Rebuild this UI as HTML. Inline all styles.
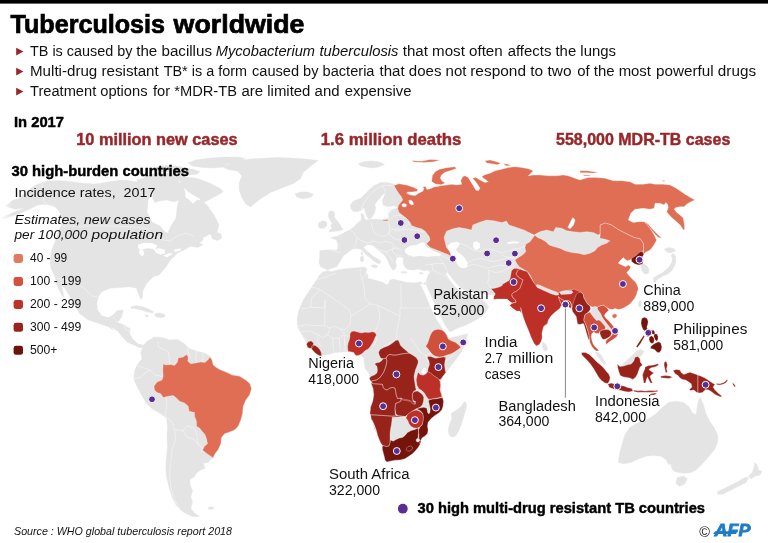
<!DOCTYPE html>
<html lang="en">
<head>
<meta charset="utf-8">
<title>Tuberculosis worldwide</title>
<style>
html,body{margin:0;padding:0;background:#fff;}
body{width:768px;height:543px;overflow:hidden;font-family:"Liberation Sans", sans-serif;}
svg{display:block;position:absolute;left:0;top:0;}
svg text{font-family:"Liberation Sans", sans-serif;white-space:pre;}
</style>
</head>
<body>
<svg width="768" height="543" viewBox="0 0 768 543">
<rect x="0" y="0" width="768" height="543" fill="#ffffff"/>
<g id="map">
<path fill="#e4e4e4" stroke="#e4e4e4" stroke-width="0.4" stroke-linejoin="round" d="M143.2 346.2L147 341.2L154.5 337L162 337.5L169.5 340L177.5 339.5L184.5 343.8L189.5 348.8L197 351.2L204.5 353L210 356.2L212 360L213.2 365L217 368L227 372.5L239.5 376.2L245.8 380L250 383.8L251.5 388.8L249.5 395L245.8 400L243.2 406.2L242.5 413.8L240.8 420L238.2 426.2L234.5 430L229.5 432L224.5 433.8L221.5 437.5L220.8 443.8L218.2 449.5L215 453.8L212.8 458L210.8 459.5L208.2 462.5L203.2 463.2L205 468.2L200.8 470L197 472.5L194 477L190 479.5L190 484.5L192.5 490.8L190.8 497L192.5 502L190.8 508.2L194.5 513.2L199.5 516.5L192 516.5L183.2 512L176.5 505.8L172 497L169 487L166.5 477L165.8 467L166.5 457L167.5 447L167 437L167.5 427L166.8 420L165.8 417.5L160.8 413.8L152 408.8L145.8 402.5L140.8 393.8L137 386.2L134 380L134.5 371.2L137 365L142 358.8L140.8 352.5ZM208.2 507.5L212 506.8L214 508L211.5 509.5L208.5 509ZM7.5 204.3L12.5 200.5L18.8 198.6L25 193L31.2 188L37.5 184.3L47.5 181.1L57.5 180.5L70 181.5L82.5 183.2L95 184L105 182.5L115 180.8L125 180L135 181.5L143 182.5L147 178L151 174L154 178L158 180L163 178L167 181L165 186L158 190L152 194L148 200L147 212L152 222L160 226L165 232L168 233L171 226L176 218L177 208L179 199L185 197L189 200L193 204L197 200L202 201L207 205L214 215L219 225L217 232L210 234L203 238L203 240L199.2 243L203 244.5L198 247.5L190.5 246.2L184.2 250L178 252.5L170.5 260L165.5 267.5L159.2 275L153.3 276.7L146.7 283.3L142.5 291.7L142.5 297.5L140.8 299.2L138.3 293.3L136.7 288.3L130 286.7L120 287.5L110 288.3L101.7 291.7L98.3 296.7L96.7 303.3L97.5 310L101.7 315.8L108.3 317.5L113.3 315L116.7 310.8L123.3 310L121.7 316.7L118.3 321.7L116.7 325L117.8 322.5L124 325L130.2 328.8L129.5 333.8L132.8 338.8L137.8 343.8L142.8 345L146.5 343.8L145.2 348L139 347.5L134 345L127.8 342.5L122.8 337.5L117.8 331.2L110.2 326.2L113.3 330L108.3 326.7L98.3 323.3L88.3 320L79.2 313.3L75.8 306.7L70 296.7L65 288.3L61.7 285.8L64.2 298.3L61.7 295L56.7 285L55 276.7L50.8 268.3L50 260L51.7 250L55.8 240L58.7 230.5L61.2 225.5L62.5 220.5L61.2 215.5L58.7 210.5L55 206.8L50 205L42.5 204.3L37 205.3L30 209L22 212.5L12 216L3 219L2 217.3L11 213.5L20 210L25 208L15 209.2L7.5 206.8L5.5 205.5ZM130.8 306.7L136.7 305.8L143.3 307L149.2 309.2L153.3 311.7L152.5 313L146.7 311.7L140.8 309.7L135 308.7L131.3 308.3ZM155 313.7L159.2 313L164.2 314.2L165.3 316.3L161.7 317.7L156.7 317L154.7 315.3ZM144.7 315.3L147.5 315L148.7 316.3L146 317ZM327.3 270.8L331.5 271.7L337.3 270L345.7 268.7L354 268L360.7 267.5L364.8 267L367 269.2L365.7 272.5L368.2 275.8L367.3 278.3L371.5 279.2L377.3 280.8L383.2 282.5L386.5 285L389 283.3L389.8 280L394 279.2L399.8 280.8L407.3 282.5L414 283L420.7 281.7L423.2 283.7L420 284L423.5 291L427 299L430 306.5L433.5 313.5L436.5 319.5L439.5 324.5L444 331L447.5 336L449.5 338.3L449.5 338.2L457 336.4L464.5 334.5L467.6 333.9L467 337L466.4 340.8L465.1 344.5L462.6 349.5L459.5 354.5L455.8 359.5L452 364.5L448.2 369.5L445.8 372.6L443.9 375.1L442 377.6L440.1 380.1L441.9 377.2L440.6 382.2L441.2 388.5L441.9 394.8L442.5 397.5L443.5 401L443.1 406L441.9 409.8L438.8 412.9L435 415.4L431.2 418.5L428.1 422.2L427.5 426L428.1 429.8L427.5 433.5L425 436L421.9 437.9L420.6 441L420 443.9L421.2 441.2L420 444.4L418.1 447.5L415.6 450.6L412.5 453.8L408.8 456.2L405 458.8L400 460L395 460.2L390 461.2L386.9 461.9L385 460L384.4 456.9L383.5 453.8L382.5 450L382.2 447.5L382.8 445.6L381.2 443.8L379.4 440L377.5 435L376.2 430L374.4 425L371.9 420L371.2 418.5L370.6 414.8L370 413.5L370.6 407.2L372.8 401L373.8 394.8L373.1 388.5L371.2 383.5L372.5 387.5L371.9 383.1L371.2 381.2L370 380L369.4 378.1L370.6 379.5L370 375.8L368.1 372L365 368.2L364.4 363.2L363.8 358.2L361.2 355.1L356.9 355.8L353.8 352.6L348.1 351.4L341.2 352L335 352.6L330 353.9L325 355.1L321 355.5L318.8 354.8L316.2 352.6L313.8 350.5L311.9 347.6L310 348.2L307.8 347L306.9 343.9L304.5 339.2L300.8 333L298.2 328L297 320.5L298.2 313L300.8 305.5L304.5 298L309.5 290.5L314.5 283L319.5 275.5L317.3 280L319.8 275L323.2 271.7ZM464.4 401.6L466.2 402.9L466.5 406.6L465 412.2L463.1 418.5L461.2 424.8L458.8 431L455.6 436L451.9 437.2L449 434.8L448.1 429.8L449.4 424.8L451.9 418.5L451.2 413.5L455 411L458.8 408.5L461.9 405.4ZM327.3 270L324 268.3L320.7 266.7L319 262.5L319.8 256.7L319.8 250.8L329 249.7L337.3 250L338.2 245L336.5 240L330.7 237.5L337.3 236.3L341.5 234.2L345.7 231.7L349.8 230L354 226.7L357.3 223.3L360.7 220.8L361.5 218.3L360.7 214.2L363.2 213.7L364.3 217.5L365.3 220L370.7 219.2L377.3 219.2L382.3 219.7L389 218.3L388.2 214.2L390.7 210.8L395.7 208.3L398.2 207.5L394 205.8L387.3 206.7L383.2 205L382.3 200.8L384 196.7L385.7 192.5L382.3 195L378.2 200L374.8 204.2L375.7 208.3L374.7 212.5L373 215.8L371 218.3L368.7 218.8L366.8 216.7L365.3 212L364 207.5L361.5 210L357.3 211.7L353.2 211.3L350.7 208.3L350.7 204.2L354 200.8L360.7 198.3L364.8 194.2L369 190L374 185.8L380.7 182.5L387.3 182.5L394 184.2L420 200L470 215L520 225L535 238L530 260L520 270L516 285L509 296L500 295.5L492 295L484 294L478 292.5L472 291.5L466 290.5L461 288L456.5 283.5L452 278L448.5 273.5L447 272L446 274L449.5 280L454 285.8L458.5 290L464 292.8L470 293.5L475 295.5L481 298.5L486 303L488.5 307L486 312L481 317L474 321L466 325L458 328L450 332L445 325L441.5 318L438 310.5L434 302L430.5 294.5L428 289L426 284L424.5 282L424 283.7L425.3 285L426.5 280L428.2 275L429.8 272.5L428.2 270L424 270.8L419 269.2L412.3 270L407.3 269.2L404 265.8L403.2 261.7L403.5 258L400 256.5L396.5 258L395.5 262L396.5 266L395 269.5L392.5 270L390.5 266.5L388.5 262.5L387 258.8L383.9 254.6L378.7 250.4L372.4 245.2L367 244.5L363.5 247.5L366.2 250.4L370 253.5L373.5 256.7L377 258.5L380.8 260.8L379.5 263.8L377 263L374.5 261.4L371 258.5L367.2 255.6L364 252.5L361 249.4L357 248.5L352 249.3L346.4 253.5L343.2 256L341.5 259.2L339.5 262.5L336.5 266.7L331.5 268.3ZM329 211.7L332.3 210.8L334.8 213.3L334 216.7L336.5 220L339.8 224.2L341.5 227.5L343.2 229.2L339.8 230.8L334.8 231.3L329.8 232L329 230.8L332.3 228.3L330.7 225.8L332.3 223.3L329.8 220L328.2 215.8ZM319 222.5L323.2 220.8L326.5 222L327 225.8L324 228.3L319.8 228.3L318.2 225.8ZM370.7 265.3L374.8 264.7L377.7 265.7L376.5 267.7L372.7 267.3ZM360.7 256.7L363.2 256L363.7 260.8L361.5 262L360.3 259.7ZM361.2 251.7L362.5 252L362.7 255L361.3 255ZM400.7 271.8L404 271.5L407.3 272.2L404.8 273.2L401.5 273ZM419 272.8L421.5 272.3L423.3 273.3L420.7 274.3ZM295 193.8L300.5 192L308 192L313.5 194.5L310.5 197.5L303 198.8L296.8 197ZM358.2 163.8L364.5 161.5L372 161L379.5 162L384.5 164.5L378.2 167L372 168L365.8 167L360.8 166ZM640.8 264.2L644.2 263.7L647.5 266.7L649.2 270L648.3 273.3L645 274.2L642.5 271.7L641.3 268.3ZM653.3 278.3L656.7 275.8L661.7 273.3L665.8 270L669.2 266.7L671.7 262.5L672.5 258.3L670.8 255.8L673.3 253.3L675.8 256.7L675.8 261.7L674.2 266.7L671.7 270.8L667.5 274.2L663.3 275.8L659.2 278.3L655.8 280.8ZM654.2 277.5L656.7 279.2L655.8 282.5L653.3 281.7ZM664.2 249.2L668.3 247.5L673.3 248.3L675.8 250.8L671.7 252.5L667.5 252.5ZM638.8 301.5L640.6 300.2L641.5 302.8L640.6 306.5L639 307.1L638.4 304.6ZM542.5 341.9L544.4 343.1L546.9 346.2L547.5 349.4L545.6 351.2L543.5 350L542.2 346.2ZM590.6 310.9L592.5 307.8L595 306.8L597.5 307.8L598.8 310.9L600.6 313.4L601.9 316.5L603.8 319.6L606.2 322.8L608.8 325.9L611.2 329L610.6 330.9L608.1 329.6L605.6 327.1L603.1 324L601.2 321.5L598.8 319.6L596.2 320.2L594.4 318.4L592.5 315.9L591.2 313.4ZM595 351.9L598.8 352.5L601.9 356.2L603.8 360L605.6 363.8L604.4 364.4L601.9 361.9L599.4 358.8L596.9 355.6ZM622.5 363.8L626.2 361.2L630 357.5L633.8 353.8L637.5 350.6L641.2 349.4L643.8 351.2L642.5 354.4L639.4 356.9L637.5 356.9L635 357.5L633.8 361.2L631.2 364.4L627.5 365L623.8 365.6ZM618.5 460L619.8 452.5L622.2 443.8L624.8 435L629.8 427.5L638.5 422.5L648.5 418.8L656 413.8L662.2 407.5L668.5 402.5L676 401.2L683.5 402.5L688.5 406.2L692.2 412.5L696 415L697.2 407.5L698.5 400L700.5 397.5L703.5 405L706 413.8L709.8 421.2L714.8 428.8L718 436.2L717.5 442.5L715 448.8L710 455L702.5 463.8L696 470L691 472.5L684.8 473.2L678.5 472.5L674 471.2L672 468.8L670.5 463.8L668.5 464.5L666 459.5L661 456.2L653.5 455.5L646 456.2L638.5 458.8L631 462.5L623.5 463.8L618.5 462.5ZM677.2 477.5L683.5 476.2L687.2 478.8L684.8 483.8L679.8 486.2L676 483.8ZM754.8 462.5L757.2 465L758.5 470L762.2 471.2L759.8 475L754.8 476.2L751 478.8L748.5 476.2L752.2 472.5L754 467.5ZM748.5 477.5L746 482.5L738.5 486.2L731 490L723.5 493.8L718 494.5L717.2 492L723.5 488.8L731 485L738.5 481.2L744.8 477.5ZM223 167L235.5 161.2L253 158.8L278 157.5L303 158.8L318 160.5L310.5 166.2L303 172.5L300.5 178.8L293 183.8L283 187.5L270.5 192.5L260.5 198.8L254.2 203.8L250.5 207L245.5 203.8L241.8 197.5L239.2 190L239.2 182.5L241.8 176.2L238 171.2L228 169.5ZM188 163L195.5 160L208 158.2L223 157L238 157L245.5 158.8L238 162L228 163.8L223 167L213 168L203 167.5L193 166.2ZM183.3 176.7L196.7 178.3L210 183.3L220 188.3L223.3 191.7L216.7 195.8L210 199.2L205 201.7L200.8 204.2L198.3 202.5L200.8 199.2L195 195.8L188.3 191.7L183.3 186.7L180 181.7ZM143 176.2L155.5 173.8L170.5 173L183 175L186.8 178.8L178 181.2L165.5 181.2L153 182L145.5 180ZM153 167.5L165.5 165.5L178 166.2L188 168.8L183 172L170.5 172L158 171.2ZM136.7 180L146.7 177.5L158.3 176.7L168.3 178.3L173.3 181.7L170 186.7L163.3 189.2L155 188.3L146.7 186.7L140 185ZM175 170L183.3 168.3L193.3 169.2L200 171.7L196.7 174.2L188.3 174.7L180 173.3ZM210.5 233.8L215.5 232L221 233.8L221.8 238L217.5 240.5L212.5 238.8ZM156.7 181.7L166.7 180L176.7 180.8L183.3 185L185.3 193.3L184.5 201.2L180 200L173.3 201.7L166.7 200L160 200.8L155 202.5L152.5 198.3L153.3 190Z"/>
<path fill="#fff" d="M421.8 369.5L423.8 367.8L426 368.5L426.5 371.2L425.4 373.5L423.4 374.5L421.5 372.5ZM405 249.2L410 245.8L416.7 245L419.7 243.3L422.5 242.3L425 243.3L424.7 245.3L427.5 247.5L433.3 250.8L438.3 253L441.7 254.3L439.2 256L433.3 256.2L426.7 256.7L420 255.8L413.3 256.7L408.3 255L405 252.5ZM447.5 245.8L451.7 242.5L456.7 241.7L460 243.3L458.3 246.7L455.8 249.2L458.3 252.5L461.7 255L465 258.3L467.5 262.5L467.5 266.7L464.2 268.3L460 267.5L457.5 264.2L455.8 260L453.3 257.5L450 255L448.3 250.8ZM473.3 242.5L476.7 241.3L479.7 243.3L480 247.5L477.5 250L474.2 249.2L473 245.8ZM506.7 242.5L513.3 241.3L519.2 242L518.3 243.3L513.3 243.3L508.3 244.2ZM137.9 244.8L144.2 242.7L152.5 243.3L157.7 245.8L154.6 249L147.3 248.3L142.1 249.6L137.9 248.3ZM139.6 249L143.1 250L144.2 254.6L141.7 256.2L139 253.1ZM153.5 249L159.8 248.3L165 250L164.6 253.8L159.8 254.6L155.6 252.5ZM162.9 255.8L169.2 253.1L173.3 253.8L167.1 257.3ZM173.3 250L180 248.3L181.7 250L175.4 252.1Z"/>
<path fill="none" stroke="#fff" stroke-width="0.5" stroke-opacity="0.85" stroke-linejoin="round" d="M315 280.5L320 278.3L325.8 277.2L331.7 274.7L336.7 273M310 286.7L315 287.7L320 289.7L311.7 298L310.8 307.2L307.5 308L301.7 308.8M320 289.7L325 293L338.3 302.2L350 310.5L350.8 316.3L360 310.5L370 303.8M370 303.8L365 298L364.2 289.7L363.3 283L361.7 278L360 273L360.8 268.8M361.7 278L365 276.3L365.8 273M370 303.8L378.3 305.5L390 311.3L400 316.3L400 308L401.3 308L400.8 283.8M401.3 308L410 308L418 308M310.8 307.2L325 308L325 300.5L324.7 325.5L311.7 325.5L306.7 324.7L298.3 326.3M324.7 325.5L330 328L335 326.3L340 328.8L345 329.7L350 324.7L350.8 316.3M378.3 305.5L380 318L376.7 328L375 331.7M400 316.3L398.3 324.7L396.7 331.3L396.7 338.3M383.3 346.3L390 343L396.7 338.8M350.8 333.8L347.5 336.3L345 334.7L340 328.8M332.5 338L333 344.7L333.7 351.3M339.2 338L339.7 344.7L340.3 351.3M344.2 334.7L344.7 343L345.3 351M330 328L327.5 334.7L332.5 338L339.2 338L344.2 334.7M300 332.2L306.7 331L313.3 332.2L318.3 334.7L322.5 338L327.5 334.7M300 332.2L303.3 336.3L306.7 341.3M318.3 334.7L317.5 341.3L320.8 346.3M373.3 346.3L376.7 339.7L375 332.2M418 308L430 308M410 338L416 345L420 352L426 356L432 352M432 352L436 357L438 361L444 360M426 356L428 362L432 366L437 366M446 361L452 356L458 349L462 347M444 331L446 336L448 339M460 243.3L466.7 245.8L473.3 250L480 251.7L486.7 249.2L493.3 250L500 252.5L506.7 251.7L513.3 249.2L520 248.3L525 245.8M455 260L458.3 265L466.7 266.7L473.3 264.2L480 265.8L486.7 268.3L493.3 266.7L500 265L506.7 265.8L513.3 263.3L518.3 260M467.5 262.5L473.3 260L480 258.3L486.7 260L493.3 261.7L500 260L506.7 258.3L513.3 256.7M500 252.5L503.3 255.8L508.3 257.5L515 258.3L520 256.7M488.3 270L489.2 276.7L487.5 283.3L491.7 288.3M488.3 270L495 272.5L501.7 271.7L508.3 268.3L515 265.8M436.7 253.3L441.7 255.8L446.7 258.3L450 260M437 253.7L440 258.3L443.3 263.3L445.8 268.3L448.3 271.7M425 265L431.7 264.2L438.3 263.3L443.7 263.7M431.7 264.2L433.3 270L438.3 273.3L445 275.8L448.3 271.7M426.7 273.3L433.3 270M445 275.8L450 280L455 283.3M157.5 340.8L158.3 346.7L163.3 349.2L168.3 351.7L169.2 358.3L170 364.2M137.5 365.8L143.3 367.5L150 370L155 375L160 375.8L163.3 377.5M135 378.3L140 377.5L145 373.3L150 370M165.8 396.7L166.7 403.3L166.7 408.3L165 413.3L166.7 420M188.3 345.8L187.5 351.7L190 355.8L188.3 358.3M196.7 350.8L195.8 358.3L196.7 363.3M203.3 352.5L202.5 359.2L203.3 362.5M166.5 417L172 422L174.5 429.5L183.2 430.8L187 425.8L194.5 428.2M174.5 429.5L175.8 439.5L172 449.5L170.8 462L169.5 474.5L170.8 487L174.5 499.5L179.5 509.5M183.2 430.8L187 437L194.5 439.5L198.2 444.5L202.5 448.2M194.5 428.2L197 434.5L198.2 444.5M200.8 453.2L202.5 448.2L207 449.5M58 226L80 226L110 226L135 227L148 229L156 236L163 240L170 241L177 236L186 233L194 236M42 183L43 192L44 202L48 205M57 278L66 280L76 284L84 288L92 296L98 297M113 317L117 322L121 322M124 325L126 330L130 331M132 338L135 340M361.5 209.2L362.3 205.8L364.8 201.7L368.2 196.7L372.3 192.5L377.3 188.3L382.3 185.8L387.3 185L392.3 185.8M385.7 192.5L384 188.3L382.3 185.8M329 250L335 251L341 253M350 229L354 233L357 238L356 244L354 248L357 252M357 238L362 241L368 243L374 241L380 243M350 229L353 224L358 221M371 221L372 227L374 233L380 236L386 236M388 221L390 227L389 233L386 236M388 221L394 216L402 215L409 219L408 225L402 229L392 229L389 233M389 233L393 238L399 240L404 238L409 241M392 229L398 231L408 229L416 230L424 232M380 243L386 241L392 243L396 248L401 250M374 247L380 250L386 252L390 257L393 262M393 246L392 251L396 255L402 255M386 252L390 250L396 248M396 255L398 260L402 262M309 250L311 258L310 265"/>
<path fill="#df6e54" stroke="#fff" stroke-width="0.3" stroke-linejoin="round" d="M163.2 363.8L165.8 365L170.8 364.5L174.5 365.5L177.5 362L178.2 358L183.2 357L186.5 354.5L188.2 357L187.8 361.2L190.8 363.8L195.8 363L200.8 362L205 362.5L208.2 359.5L210 357L212 360L213.2 365L217 368L220.8 370L227 372.5L232 375L239.5 376.2L245.8 380L250 383.8L251.5 388.8L249.5 395L245.8 400L243.2 406.2L242.5 413.8L240.8 420L238.2 426.2L234.5 430L229.5 432L224.5 433.8L221.5 437.5L220.8 443.8L218.2 449.5L215 453.8L212.8 458L210.8 456.2L207 453.8L202.5 450L204.5 446.2L207.5 443.8L206.5 438.8L205 434.5L202 431.2L199.5 428L196.5 426.2L196.5 421.2L194.5 416.2L194.5 412.5L189 411.2L188.2 406.2L184.5 403L179.5 401.2L176.5 398L173.2 395.5L168.2 396.2L163.2 397.5L160.8 393.8L157 392.5L154.5 390L154 386.2L157 382L162 380L163.2 376.2L162.8 370Z"/>
<path fill="#98231a" stroke="#fff" stroke-width="0.3" stroke-linejoin="round" d="M306.5 343.9L308.5 341.6L311.2 341L313.5 343L313.5 345.8L312.1 347.9L310 348.6L307.5 347.2ZM312.5 344.9L315.2 345.4L317.8 347.2L320 349.8L321.2 352.4L321.8 355.8L319.4 355.8L316.6 354.1L314.1 352L312 349.5L311.2 347.6Z"/>
<path fill="#bd3027" stroke="#fff" stroke-width="0.3" stroke-linejoin="round" d="M350 333.9L351.2 331.8L353.8 331L357.5 332L361.2 333L365 332.2L368.8 332.6L372.5 331.8L375 332.6L376.5 335.1L375 337.6L373.8 340.8L371.9 343.9L370 347L368.1 348.9L365 350.8L362.5 353.2L360 354.8L356.9 355.8L355 354.8L353.8 352.6L350.6 351.8L348.1 351.4L347.5 347L348.1 343.2L349.4 339.5L350 336.4Z"/>
<path fill="#98231a" stroke="#fff" stroke-width="0.3" stroke-linejoin="round" d="M378.5 352.5L380 349.4L383.8 347.5L388.8 345.6L392.5 343.1L395.6 340.6L398.1 340L399.4 342.5L400.6 345.6L403.1 348.1L406.2 350.6L408.8 353.1L405 353.5L401.2 354L397.5 354.8L393.8 355.2L390 354.4L387.5 355.6L386.2 358.1L383.1 358.8L380.6 358.1L379.4 355.6ZM383.1 358.8L386.2 358.1L386.9 361.2L386.2 365L385 368.8L383.8 371.9L381.9 375L379.4 378.1L376.2 380L373.1 380.6L371.2 381.2L370 380L369.4 378.1L371.2 376.2L374.4 375L376.9 373.1L377.5 370L376.9 366.2L375 364.4L375.6 363.1L378.8 362.5L381.2 361.2ZM387.5 355.6L390 354.4L393.8 355.2L397.5 354.8L401.2 354L405 353.5L408.8 353.1L412.5 355L416.2 357.5L418.1 360.6L418.1 363.1L416.9 366.2L415.6 369.4L414.8 372.5L414 376.2L414.4 380L415 383.8L415.6 387.5L416.2 390L413.8 391.2L412.5 393.8L412.5 397.5L413.1 401.2L415 402.5L415 404.4L412.5 403.8L410 401.2L406.2 400.6L402.5 400L401.2 398.1L397.5 398.5L396.2 395L395.6 391.2L395 388.1L392.5 387.5L389.4 388.1L387.5 390L385 389.4L383.1 387.5L382.5 384.4L378.1 384L373.8 383.8L371.9 383.1L371.2 381.2L373.1 380.6L376.2 380L379.4 378.1L381.9 375L383.8 371.9L385 368.8L386.2 365L386.9 361.2L386.2 358.1ZM371.9 383.1L373.8 383.8L378.1 384L382.5 384.4L383.1 387.5L385 389.4L387.5 390L389.4 388.1L392.5 387.5L395 388.1L395.6 391.2L396.2 395L397.5 398.5L401.2 398.1L401 400.6L401 401L398.8 402.2L395.6 403.5L395 408.5L395 413.5L396.2 415.8L392.5 416.2L387.5 415.8L381.2 415.4L375 415L370.6 414.8L370 413.5L370.6 407.2L372.8 401L373.8 394.8L373.1 388.5L371.2 383.5ZM370.6 414.8L375 415L381.2 415.4L387.5 415.8L392.5 416.2L396.2 415.8L398.8 416L405 416.6L398.8 417L392.2 417.2L391.9 421L391.2 426L390.6 428.5L390 433.5L390 438.5L390 443.9L389.8 443.8L388.8 446.2L386.2 446.5L382.8 445.6L381.2 443.8L379.4 440L377.5 435L376.2 430L374.4 425L371.9 420L376.2 433.5L375 428.5L373.1 423.5L371.2 418.5ZM395.6 403.5L398.8 402.2L401 401L400.6 398.5L403.8 399.1L407.5 399.8L411.2 401L413.8 402.9L415 404.1L415.6 401.6L413.1 400.4L412.2 397.2L412.5 393.5L414.4 391.6L417.5 391L420.6 392.9L422.5 394.8L423.8 397.2L423.5 401L422.5 404.8L420 407.2L416.2 408.8L412.5 411L410 412.9L407.5 414.8L405 416.6L401.2 416L398.1 415.8L395.6 413.5L395 408.5Z"/>
<path fill="#bd3027" stroke="#fff" stroke-width="0.3" stroke-linejoin="round" d="M407.2 415L409.8 412.6L413.1 410.8L416.5 410.1L420.2 411.4L422.8 413.9L423.8 417.2L423.4 421.2L422.1 424.4L420.1 426.9L416.9 428.2L413.5 427.8L410.9 426.2L409 423.8L407.8 420.6L405.9 418Z"/>
<path fill="#75140b" stroke="#fff" stroke-width="0.3" stroke-linejoin="round" d="M429.4 399.8L432.5 399.1L437.5 398.5L442.5 397.5L443.5 401L443.1 406L441.9 409.8L438.8 412.9L435 415.4L431.2 418.5L428.1 422.2L427.5 426L428.1 429.8L427.5 433.5L425 436L421.9 437.9L420.6 441L420 443.9L418.8 441L419 436L418.5 429.8L420 427.2L422.2 424.8L423.1 421L423.5 417.2L422.8 413.5L420.6 411L417.8 409.5L416.9 408.8L420 407.9L423.8 407.2L426.9 408.2L427.5 412.2L428.8 414.1L430 412.2L430.2 408.5L429.4 404.8L428.5 401ZM382.8 445.6L386.2 446.5L388.8 446.2L389.8 443.8L390.6 440L393.1 441.2L396.2 439.4L399.4 438.1L402.5 437.5L405 435.6L407.5 432.5L411.2 430.6L415 429.4L418.1 428.1L418.5 432.5L418.1 437.5L419.4 439.4L421.2 441.2L420 444.4L418.1 447.5L415.6 450.6L412.5 453.8L408.8 456.2L405 458.8L400 460L395 460.2L390 461.2L386.9 461.9L385 460L384.4 456.9L383.5 453.8L382.5 450L382.2 447.5ZM406.5 448.1L408.1 446.5L410.6 446L412.5 447.2L412.2 449.4L410 451L407.8 451.2L406.2 450Z"/>
<path fill="#ececec" stroke="#fff" stroke-width="0.3" stroke-linejoin="round" d="M416.2 439.4L417.5 438.2L419 438.8L419.6 440.2L418.8 441.8L417.2 442L416.2 441Z"/>
<path fill="#bd3027" stroke="#fff" stroke-width="0.3" stroke-linejoin="round" d="M418.1 371.9L420 374.4L423.1 375.2L425.8 374L428.1 371.2L431.2 373.1L435 376.2L438.8 378.8L440 381.2L440.6 385L440 390L441.2 393.8L441.9 396.9L437.5 398.1L432.5 398.8L428.8 399.4L426.2 396.2L424.4 393.1L421.9 390.6L418.8 388.8L416.9 385L416.2 380L416.9 376.2Z"/>
<path fill="#98231a" stroke="#fff" stroke-width="0.3" stroke-linejoin="round" d="M427.6 356.4L430.8 356.4L433.2 357.6L435.8 358.2L439.5 357.6L443.2 357L445.8 357.6L445.1 360.8L444.5 364.5L445.1 369.5L445.8 372.6L443.9 375.1L442 377.6L440.1 380.1L437.6 378.2L433.9 375.8L430.8 373.2L427.6 371.4L428.2 368.2L429.5 364.5L428.9 360.8L427.6 358.2Z"/>
<path fill="#d1503c" stroke="#fff" stroke-width="0.3" stroke-linejoin="round" d="M425.8 346.4L427.6 343.2L428.9 339.5L430.1 335.8L432 332L434.5 330.1L438.2 329.2L442 330.1L445.1 332.6L447 335.8L448.2 338.9L451.4 340.8L455.8 342.6L459.5 345.8L460.8 347.6L458.2 349.5L454.5 352L450.8 353.9L447 355.1L443.2 356.4L439.5 357L435.8 356.4L433.2 355.1L430.8 352.6L428.9 350.1L427 347.6Z"/>
<path fill="#df6e54" stroke="#fff" stroke-width="0.3" stroke-linejoin="round" d="M394 185.6L399 183.8L406.5 185L414 187.5L417.8 189.4L417.1 191.2L412.8 191.9L407.8 191.9L406.5 193.1L410.2 195L415.2 195.6L419 193.1L422.8 191.2L424 188.8L422.8 186.9L425.2 186.2L427.1 189.4L430.2 188.8L434 186.9L439 186.2L440 185.8L446.7 185L451.7 184.2L456.7 185L461.7 184.2L460.8 180.8L462.5 176.7L465 175.8L468.3 177.5L470.8 181.7L473.3 185.8L475.8 190L478.3 190.8L480 188.3L477.5 184.2L475 180.8L472.5 178.3L475.8 177.5L480 180L485 182.5L488.3 181.7L485 179.2L481.7 176.7L484.2 175L490 173.3L495 170.8L501.7 169.2L508.3 167.5L515 166.7L521.7 167.5L528.3 168.7L533.3 170.8L530.8 173.3L528.3 175.8L533.3 175L540 175L548.3 175.8L556.7 175.8L563.3 175L568 175.8L580 180L588.3 177.5L596.7 177.5L605 178.3L613.3 180.8L621.7 180.8L630 181.7L635 184.2L643.3 184.2L650 183.3L655 184.2L663.3 184.2L670 185L675 187.5L680 190.8L685 194.2L687.5 195.8L691.7 198.3L695 200L690.8 201.7L686.7 204.2L684.2 206.7L680 206.7L675.8 207.5L674.2 209.2L676.7 212.5L680 215L683.3 218.3L684.2 223.3L684.7 229.2L683.3 230L680.8 225.8L676.7 221.7L672.5 218.3L669.2 215L666.7 211.7L668.3 207.5L667.5 204.2L665.8 202.5L664.2 205L660 203.3L655 203.3L654.2 208.3L650 209.2L643.3 208.3L635 209.2L630.8 213.3L628.3 220L633.3 222.5L638.3 221.7L644.2 221.7L646.7 224.2L650 228.3L653.3 233.3L655.8 238.3L656.7 240L654 245L650.2 250L645.2 252.5L642.8 255L643.5 250L643.5 243.8L640.2 238.8L634 237.5L626.5 233.8L619 230L611.5 225L605.2 223L600.2 225L600.2 233.8L594 237.5L574 237.5L554 235L544 231.2L539 232.5L534 235L531.5 233.8L524 230L516.5 227.5L509 225L506.5 221.2L501.5 222.5L494 220.8L486.5 220L479 222.5L472.8 225L471.5 230L466.5 228.8L459 227.5L452.8 228.8L446.5 231.2L444 237.5L445.2 242.5L446.5 247.5L449.5 251.2L451.5 256.2L449 255L442.8 252.5L436.5 250L430.2 247.5L426.5 243.8L430.2 240L429 236.2L425.2 231.2L421.5 228.8L416.5 227.5L411.5 225.6L410.2 222.5L407.1 218.8L402.8 215.6L399 212.5L397.8 208.8L398.4 205.6L400.2 203.1L402.8 200L401.5 196.9L399 193.8L396.5 190ZM431.6 181.5L432.4 175.5L435.5 171.5L439.5 169.2L446.5 167.7L455 166.8L456.3 168.6L450 170.7L445 172.3L441.5 175L440.3 178L442 181L445.3 183L441 184.8L435.5 184ZM411.5 160.5L421.5 161.2L430.2 159.5L440.2 160L434 161.8L424 162.5L414 162ZM485 160.8L490 160L496.7 161.7L500.8 163.3L497.5 164.7L491.7 163.7L486.7 163ZM503.3 163.7L508.3 164.2L510.8 165.8L505.8 165.8ZM580 170.8L586.7 170.7L591.7 171.5L598.3 172.3L593.3 173.2L586.7 172.7L580 172.7ZM583.3 174.8L590 175.2L590.3 176L583.7 175.8ZM662.5 180.2L665 180.7L664.7 181.5L662.7 181.2ZM382.7 219.7L388.2 219.7L388.2 221L383 220.8ZM645 221.7L648.3 224.2L653.3 230L658.3 235L661.7 238.3L658.3 237.5L654.2 233.3L650 228.3L645.8 223.3Z"/>
<path fill="#ffffff" stroke="#fff" stroke-width="0.3" stroke-linejoin="round" d="M401.8 204.4L404 203.5L406.5 204.4L406.2 206.5L404 207.1L402.1 206.2ZM408.8 200.6L410.9 200L413 201.9L413.5 204.4L411.8 205L409.6 203.5ZM567.8 227.5L570.2 222.5L572.8 217.5L575.2 220L573.5 225L570.2 228.8Z"/>
<path fill="#df6e54" stroke="#fff" stroke-width="0.3" stroke-linejoin="round" d="M535 235L556.7 241.7L583.3 243.3L600 237.5L600.2 233.8L600.2 225L605.2 223L611.5 225L619 230L626.5 233.8L634 237.5L640.2 238.8L643.5 243.8L643.5 250L641.5 253.8L634.2 260L631.7 259.2L627.5 260.8L625 259.2L623.3 257.5L620 260.8L618.3 263.3L621.7 265L625.8 266.7L628.3 265L630.8 266.7L629.2 270L626.7 272.5L629.2 275.8L632.5 279.2L635.8 282.5L637.5 285.8L638.3 289.2L636.7 293.3L636.9 294L635 297.8L632.5 300.9L630 304L626.2 306.5L622.5 308.4L618.8 309.6L615 308.4L612.5 309.6L609.4 309L606.2 307.1L603.1 305.2L600 305.9L597.5 307.1L595 306.5L592.5 307.1L590 305.9L587.5 304L585.6 300.9L583.8 297.8L583.1 294L580.6 292.1L578.3 293.3L574.2 291.7L569.2 292.5L563.3 294.2L557.5 295L551.7 293.3L545 290.8L540 288.3L535 285.8L531.7 278.3L530 275L527.5 271.7L523.3 269.2L519.2 266.7L516.7 263.3L515 260L518.3 257.5L522.5 255L525.8 251.7L525 247.5L525.8 244.2L530 241.7L532.5 238.3ZM612.5 314.6L615 313.8L617.2 315L616.5 317.1L614.4 318.4L612.2 317.1Z"/>
<path fill="#e4e4e4" stroke="#fff" stroke-width="0.3" stroke-linejoin="round" d="M535 235L540 231.7L546.7 230L553.3 231.7L555.8 227.5L561.7 228.3L566.7 230.8L573.3 231.7L580 232.5L586.7 231.7L593.3 232.5L598.3 235L600 238.3L605 239.2L610 240.8L606.7 243.3L601.7 245L597.5 247.5L595 250.8L590 253.3L584.2 254.7L578.3 253.3L571.7 252.5L565 250.8L560 248.3L554.2 246.7L549.2 245L545.8 241.7L541.7 239.2L537.5 237.5Z"/>
<path fill="#75140b" stroke="#fff" stroke-width="0.3" stroke-linejoin="round" d="M631.3 258.7L633.7 257L636.3 255.3L638.3 253.3L640.3 251.7L642.7 251.7L643.7 254.7L642 257.5L643.3 260.8L642.5 264L638.7 265L635 264L631.7 261.7Z"/>
<path fill="#bd3027" stroke="#fff" stroke-width="0.3" stroke-linejoin="round" d="M517.2 268.2L519.8 269.1L523.5 270.4L527.2 271.6L529.1 274.8L531 277.9L532.5 280.4L534.1 282.9L536 285.4L540 285.8L545 288.3L551.7 290.8L557.5 292.5L563.3 291.7L569.2 290L574.2 289.2L578.3 290.8L580.8 292.5L579.8 293.5L579.1 296L577.2 297.9L576 300.4L574.8 302.9L574.1 305.4L572.9 307.2L571.6 305.4L571 302.9L569.8 301L567.2 300.4L564.8 300.8L561 299.1L559.1 297.2L558.5 296.6L559.1 299.1L560.4 302.2L562.2 305.4L561 306L559.8 308.5L557.2 310.4L554.1 312.9L551 316L548.5 319.8L547.2 323.9L546.2 324.4L543.8 326.2L542.8 329.4L541.9 333.8L542.2 337.5L541.2 341.2L539.4 344.4L536.2 346L533.8 343.1L531.2 337.5L528.8 331.2L526.2 325L523.8 318.8L521.9 312.5L520.6 307.5L521.6 313.5L519.8 311L516.6 311L512.9 308.5L509.8 305.4L511.6 303.5L516 302.2L515.4 299.8L512.9 297.9L511.6 294.8L512.9 292.9L516.6 291L519.8 288.5L521 285.4L522.2 282.2L522.9 279.8L520.4 278.5L517.9 276.6L516 274.1L517.2 271.6ZM491 288.8L494.8 288.2L498.5 287.2L501.6 286L502.9 284.1L506 282.2L509.1 280.4L510.4 277.2L511 273.5L511.6 270.4L514.1 268.5L517.2 268.2L519.8 269.1L517.2 271.6L516 274.1L517.9 276.6L520.4 278.5L522.9 279.8L522.2 282.2L521 285.4L519.8 288.5L516.6 291L512.9 292.9L511.6 294.8L512.9 297.9L515.4 299.8L516 302.2L512.2 302.9L509.8 301.6L507.2 299.1L502.2 299.1L497.2 299.1L493.5 299.5L493.8 296.6L495.4 294.1L493.5 291.6ZM558.5 296.6L561 299.1L564.8 300.8L567.9 300.4L569.8 301.6L571 304.1L571.6 306.6L571 308.5L569.1 307.2L567.2 306L564.8 306.6L562.2 305.4L560.4 302.2L559.1 299.1Z"/>
<path fill="#e4e4e4" stroke="#fff" stroke-width="0.3" stroke-linejoin="round" d="M535.8 285.5L537.5 284.5L541 285.8L546 287.9L551 290.1L556 292L558.5 293.1L558.5 295.1L556 295.2L551 293.8L546 291.5L541 289.2L537.2 287.5ZM559.5 292.2L562.9 291L567.2 290.5L571.6 290.4L573 292.2L571 293.9L566 294.2L561 294.4Z"/>
<path fill="#98231a" stroke="#fff" stroke-width="0.3" stroke-linejoin="round" d="M571.9 309L572.5 305.2L573.8 301.5L575 297.8L576.2 294.6L578.1 292.8L580.6 292.1L583.1 294L583.8 297.8L585.6 300.9L587.5 304L590 305.9L590.6 309L589.4 310.9L586.9 313.4L585 314.6L584.4 317.1L583.8 320.2L585.6 324L586.9 327.8L588.1 331.5L589 335.2L589.4 339L588.5 339.6L587.5 336.5L586.2 332.1L585 327.8L583.8 324L583.1 323.4L580 324.6L577.5 324L576.9 320.2L576.2 316.5L574.4 314L572.5 311.5Z"/>
<path fill="#d1503c" stroke="#fff" stroke-width="0.3" stroke-linejoin="round" d="M585 314.6L586.9 313.4L590 312.1L591.2 314L592.8 316.2L594.8 318.8L596.5 320.5L599 319.9L601.5 321.9L603.4 324.2L605.6 327.1L605 329.6L601.9 330.2L599.8 331.5L598.5 333.4L596.2 333.4L593.8 332.1L591.9 333.4L591.2 336.5L591.9 340.2L593.1 344L595 346.5L597.5 349L598.8 350.9L596.2 350.9L593.8 349L591.9 346.5L590 342.8L589.4 339L589 335.2L588.1 331.5L586.9 327.8L585.6 324L583.8 320.2L584.4 317.1ZM597.5 307.1L600 305.9L603.1 305.2L606.2 307.1L608.8 310.2L606.9 312.1L605 314L604.4 315.9L606.2 318.4L609.4 321.5L611.9 324.6L614.4 327.8L616.9 330.2L618.1 333.4L616.9 336.5L613.8 339L610.6 340.9L608.1 342.8L606.5 344.6L605.6 342.1L606.9 339.6L609.4 337.8L611.9 335.2L613.1 332.1L611.2 329L608.8 325.9L606.2 322.8L603.8 319.6L601.9 316.5L600.6 313.4L598.8 310.9L597.5 309Z"/>
<path fill="#98231a" stroke="#fff" stroke-width="0.3" stroke-linejoin="round" d="M599.8 331.5L601.9 330.2L605 329.6L608.1 329.6L610.6 330.9L611.5 333.4L610.6 335.9L608.1 337.8L605.6 339L603.1 339.6L601.2 337.1L600 334Z"/>
<path fill="#75140b" stroke="#fff" stroke-width="0.3" stroke-linejoin="round" d="M641.9 318.2L644.6 317.3L647.2 318.6L648.2 321.7L647.7 324.6L646.9 327.1L647.3 328.8L649.3 329.7L651.8 330.5L653.5 330.1L654.6 331.8L655.2 333.8L653.8 334.5L652.3 334L650.8 333.6L649.3 332.7L647.5 331.8L645.2 331.2L643.2 329.7L641.9 326.9L641 323.8L641.2 320.8ZM649.3 337.2L651.5 335.8L653.7 337.5L654.4 340L653.6 342.9L651.5 343.5L649.8 341.9L649 339.6ZM654.2 333.8L657 334L658.2 336.7L657.9 339.5L656.7 341.3L654.9 339.6L653.8 336.5ZM646.2 333.8L648.5 333.4L649.2 335.4L648 337.1L646.3 336ZM650.6 346.7L652.8 344.7L655 343.3L656.8 342.4L658.8 341.7L660.8 343L661.8 346.7L661.4 349.9L659.3 352.7L657 352.2L654.8 349.8L652.8 348.9L650.6 348.4ZM636.1 346.7L639 342.3L641.5 338.6L643.7 335.2L644.6 336.2L642.5 340L640.4 343.8L637.3 347.5Z"/>
<path fill="#98231a" stroke="#fff" stroke-width="0.3" stroke-linejoin="round" d="M581.6 352.5L585.6 352.5L589.4 354.4L593.1 358.1L596.9 361.9L600.6 365L603.8 368.1L606.2 371.2L608.8 374L610.2 377.5L609.4 381L607.8 383.5L604.8 382.9L601.2 380.2L598.5 377.1L596 372.8L593.5 368.4L590.4 364L586.9 360L583.8 356.9L581.6 354.4ZM607.8 384.2L611.2 383.1L615 384.2L619.4 385.2L623.8 386.1L627.5 387.4L631.8 388.6L633.1 391.1L628.8 392L625 391.5L621.2 390.6L617.5 389.9L613.8 389L609.5 387.5ZM617.2 364.1L620 366.6L623.8 366L627.5 364.8L631.2 364.1L633.8 361L635 357.2L637.8 356.5L639.8 358.5L640.5 362.2L642.5 365L640 367.1L638.8 370.2L637.5 374L635.6 377.2L632.9 379.4L630 378.1L626.9 377.5L623.5 376.9L620.2 375.5L618.9 372.1L617.8 368.1ZM645 366.9L648.8 365.6L653.8 365L657.5 363.8L658.8 365L655 366.9L651.2 367.8L648.8 369.4L651.2 371.2L653.8 373.1L651.9 374.4L650 376.2L651.2 380L652.5 383.1L650.6 383.1L648.8 380L647.5 376.9L646.2 380L645.6 383.1L643.8 383.1L643.1 378.8L642.5 375L643.8 371.2L645 368.8ZM633.8 390.1L637.5 390.8L641.2 390.5L645 391L650 390.5L655 390.8L657.8 390.2L657.8 391.6L652.5 392.2L647.5 392.2L642.5 392.2L637.5 392.2L634 391.6ZM650 394L655 393.1L656.9 393.8L653.8 395.1L650 395.1ZM664.4 361.9L666.2 361.2L667.5 365L666.5 368.8L667.5 372.5L665.6 372.5L664.8 368.8L664 365ZM660.6 376.2L665 375.6L670 376L672.5 377.2L668.8 378.5L663.8 378.1L661 377.8ZM673.1 370.6L676.2 369.4L680 370L681.2 372.5L683.8 374.4L687.5 373.1L690 372.2L693.8 373.5L697.8 375L697.8 392.5L696.9 392.5L693.8 390L690 390.6L689.4 389.4L691.9 386.9L691.2 383.8L688.8 381.9L685.6 380L682.5 379.4L680 378.1L678.1 375.6L675 373.8ZM697.8 375L701.2 376.2L705 378.1L708.8 380.6L712.5 383.1L715 384.4L713.1 386.9L715 390L718.1 393.1L721.2 395.6L721.9 397.2L718.8 396.2L715 394.4L711.9 391.9L708.8 390L705.6 389.4L702.5 392.5L699.4 393.1L697.8 392.5ZM716.2 383.5L720 383.8L723.8 382.5L726.2 380.6L726.9 379.4L727.8 380L726.5 382.2L723.8 384L720 385L716.9 384.8ZM732.5 382.8L734 383.8L735.6 386.2L734.8 387L733.1 385Z"/>
<g fill="#5a2d91" stroke="#fff" stroke-width="1"><circle cx="152" cy="399.3" r="3.45"/><circle cx="358.9" cy="343.5" r="3.45"/><circle cx="442.8" cy="346.4" r="3.45"/><circle cx="463.2" cy="342.4" r="3.45"/><circle cx="438.4" cy="367.1" r="3.45"/><circle cx="396.4" cy="374.4" r="3.45"/><circle cx="383.1" cy="406.2" r="3.45"/><circle cx="435.9" cy="407.6" r="3.45"/><circle cx="414.9" cy="420.1" r="3.45"/><circle cx="396.8" cy="451.0" r="3.45"/><circle cx="400.8" cy="223.0" r="3.45"/><circle cx="417.2" cy="236.2" r="3.45"/><circle cx="404.4" cy="240.0" r="3.45"/><circle cx="459.2" cy="208.3" r="3.45"/><circle cx="452.8" cy="258.7" r="3.45"/><circle cx="496.1" cy="240.2" r="3.45"/><circle cx="487.1" cy="253.5" r="3.45"/><circle cx="514.9" cy="253.6" r="3.45"/><circle cx="508.7" cy="263.0" r="3.45"/><circle cx="513.6" cy="282.0" r="3.45"/><circle cx="541.1" cy="308.2" r="3.45"/><circle cx="565.4" cy="304.6" r="3.45"/><circle cx="579.3" cy="308.3" r="3.45"/><circle cx="594.2" cy="327.5" r="3.45"/><circle cx="615.0" cy="330.9" r="3.45"/><circle cx="622.9" cy="284.0" r="3.45"/><circle cx="639.5" cy="259.8" r="3.45"/><circle cx="648.3" cy="332.8" r="3.45"/><circle cx="617.3" cy="386.3" r="3.45"/><circle cx="705.6" cy="384.8" r="3.45"/></g>
<path d="M565.4 305V397.7" stroke="#6a6a6a" stroke-width="0.8" fill="none"/>
<circle cx="565.4" cy="304.6" r="3.45" fill="#5a2d91" stroke="#fff" stroke-width="1"/>
</g>
<defs>
<linearGradient id="fadeL" x1="0" y1="0" x2="1" y2="0"><stop offset="0" stop-color="#fff" stop-opacity="0.95"/><stop offset="1" stop-color="#fff" stop-opacity="0"/></linearGradient>
<linearGradient id="fadeR" x1="0" y1="0" x2="1" y2="0"><stop offset="0" stop-color="#fff" stop-opacity="0"/><stop offset="1" stop-color="#fff" stop-opacity="0.9"/></linearGradient>
</defs>
<rect x="0" y="195" width="12" height="40" fill="url(#fadeL)"/>
<rect x="0" y="0" width="768" height="3.6" fill="#000"/>
<g id="legend">
<circle cx="402.8" cy="508.7" r="4.9" fill="#5a2d91"/>
<rect x="13.6" y="254.00" width="9.4" height="9" rx="2.4" fill="#df7b60"/><rect x="13.6" y="276.95" width="9.4" height="9" rx="2.4" fill="#d2523f"/><rect x="13.6" y="299.90" width="9.4" height="9" rx="2.4" fill="#be3229"/><rect x="13.6" y="322.85" width="9.4" height="9" rx="2.4" fill="#98241b"/><rect x="13.6" y="345.80" width="9.4" height="9" rx="2.4" fill="#6e130b"/>
<path d="M16.2 47.800000000000004L23.4 51.6L16.2 55.4Z" fill="#97272b"/><path d="M16.2 67.8L23.4 71.6L16.2 75.39999999999999Z" fill="#97272b"/><path d="M16.2 87.8L23.4 91.6L16.2 95.39999999999999Z" fill="#97272b"/>
</g>
<path d="M713 534L715.2 531.2H737L736.2 534Z" fill="#1f7cc4"/>
<g id="labels">
<text x="10.5" y="32.5" font-size="25.2" font-weight="bold" fill="#000" textLength="154.5" lengthAdjust="spacingAndGlyphs" stroke="#000" stroke-width="0.7">Tuberculosis</text>
<text x="173.6" y="32.5" font-size="25.2" font-weight="bold" fill="#000" textLength="130.9" lengthAdjust="spacingAndGlyphs" stroke="#000" stroke-width="0.7">worldwide</text>
<text x="30" y="56.25" font-size="14" fill="#111111" textLength="102.5" lengthAdjust="spacingAndGlyphs">TB is caused by</text>
<text x="136.2" y="56.25" font-size="14" fill="#111111" textLength="75.8" lengthAdjust="spacingAndGlyphs">the bacillus</text>
<text x="215.8" y="56.25" font-size="14" font-style="italic" fill="#111111" textLength="99.2" lengthAdjust="spacingAndGlyphs">Mycobacterium</text>
<text x="319.5" y="56.25" font-size="14" font-style="italic" fill="#111111" textLength="79.0" lengthAdjust="spacingAndGlyphs">tuberculosis</text>
<text x="402.7" y="56.25" font-size="14" fill="#111111" textLength="100.0" lengthAdjust="spacingAndGlyphs">that most often</text>
<text x="507.7" y="56.25" font-size="14" fill="#111111" textLength="108.3" lengthAdjust="spacingAndGlyphs">affects the lungs</text>
<text x="30" y="76.25" font-size="14" fill="#111111" textLength="128.7" lengthAdjust="spacingAndGlyphs">Multi-drug resistant</text>
<text x="163.7" y="76.25" font-size="14" fill="#111111" textLength="83.3" lengthAdjust="spacingAndGlyphs">TB* is a form</text>
<text x="252" y="76.25" font-size="14" fill="#111111" textLength="122.5" lengthAdjust="spacingAndGlyphs">caused by bacteria</text>
<text x="379.5" y="76.25" font-size="14" fill="#111111" textLength="87.0" lengthAdjust="spacingAndGlyphs">that does not</text>
<text x="470.2" y="76.25" font-size="14" fill="#111111" textLength="101.3" lengthAdjust="spacingAndGlyphs">respond to two</text>
<text x="577.2" y="76.25" font-size="14" fill="#111111" textLength="73.8" lengthAdjust="spacingAndGlyphs">of the most</text>
<text x="656" y="76.25" font-size="14" fill="#111111" textLength="100.0" lengthAdjust="spacingAndGlyphs">powerful drugs</text>
<text x="30" y="96.25" font-size="14" fill="#111111" textLength="117.5" lengthAdjust="spacingAndGlyphs">Treatment options</text>
<text x="153" y="96.25" font-size="14" fill="#111111" textLength="84.0" lengthAdjust="spacingAndGlyphs">for *MDR-TB</text>
<text x="241.5" y="96.25" font-size="14" fill="#111111" textLength="98.0" lengthAdjust="spacingAndGlyphs">are limited and</text>
<text x="344.7" y="96.25" font-size="14" fill="#111111" textLength="66.8" lengthAdjust="spacingAndGlyphs">expensive</text>
<text x="14" y="126.5" font-size="15" font-weight="bold" fill="#000" textLength="50.0" lengthAdjust="spacingAndGlyphs" stroke="#000" stroke-width="0.45">In 2017</text>
<text x="76.25" y="144.6" font-size="16.2" font-weight="bold" fill="#97272b" textLength="161.4" lengthAdjust="spacingAndGlyphs" stroke="#97272b" stroke-width="0.45">10 million new cases</text>
<text x="320.7" y="144.6" font-size="16.2" font-weight="bold" fill="#97272b" textLength="140.6" lengthAdjust="spacingAndGlyphs" stroke="#97272b" stroke-width="0.45">1.6 million deaths</text>
<text x="556" y="144.6" font-size="16.2" font-weight="bold" fill="#97272b" textLength="174.3" lengthAdjust="spacingAndGlyphs" stroke="#97272b" stroke-width="0.45">558,000 MDR-TB cases</text>
<text x="11.5" y="175.6" font-size="15" font-weight="bold" fill="#000" textLength="177.5" lengthAdjust="spacingAndGlyphs" stroke="#000" stroke-width="0.45">30 high-burden countries</text>
<text x="14.5" y="197" font-size="13.3" fill="#111111" textLength="141.0" lengthAdjust="spacingAndGlyphs">Incidence rates,&#160; 2017</text>
<text x="14.5" y="224.2" font-size="13.3" font-style="italic" fill="#111111" textLength="136.0" lengthAdjust="spacingAndGlyphs">Estimates, new cases</text>
<text x="14.5" y="239.3" font-size="13.3" font-style="italic" fill="#111111" textLength="72.8" lengthAdjust="spacingAndGlyphs">per 100,000</text>
<text x="91.6" y="239.3" font-size="13.3" font-style="italic" fill="#111111" textLength="71.4" lengthAdjust="spacingAndGlyphs">population</text>
<text x="30" y="262.0" font-size="12.2" fill="#111111" textLength="37.2" lengthAdjust="spacingAndGlyphs">40 - 99</text>
<text x="30" y="284.95" font-size="12.2" fill="#111111" textLength="51.3" lengthAdjust="spacingAndGlyphs">100 - 199</text>
<text x="30" y="307.9" font-size="12.2" fill="#111111" textLength="51.3" lengthAdjust="spacingAndGlyphs">200 - 299</text>
<text x="30" y="330.85" font-size="12.2" fill="#111111" textLength="51.3" lengthAdjust="spacingAndGlyphs">300 - 499</text>
<text x="30" y="353.8" font-size="12.2" fill="#111111" textLength="27.5" lengthAdjust="spacingAndGlyphs">500+</text>
<text x="433.4" y="299.0" font-size="14" fill="#111111" textLength="55.2" lengthAdjust="spacingAndGlyphs">Pakistan</text>
<text x="433.2" y="314.5" font-size="14" fill="#111111" textLength="51.1" lengthAdjust="spacingAndGlyphs">525,000</text>
<text x="643.3" y="295.3" font-size="14" fill="#111111" textLength="37.4" lengthAdjust="spacingAndGlyphs">China</text>
<text x="643.3" y="310.7" font-size="14" fill="#111111" textLength="51.0" lengthAdjust="spacingAndGlyphs">889,000</text>
<text x="673.3" y="334.3" font-size="14" fill="#111111" textLength="74.0" lengthAdjust="spacingAndGlyphs">Philippines</text>
<text x="673.3" y="350" font-size="14" fill="#111111" textLength="50.0" lengthAdjust="spacingAndGlyphs">581,000</text>
<text x="484.6" y="346.8" font-size="14" fill="#111111" textLength="32.8" lengthAdjust="spacingAndGlyphs">India</text>
<text x="484.7" y="362.9" font-size="14" fill="#111111" textLength="17.9" lengthAdjust="spacingAndGlyphs">2.7</text>
<text x="508.2" y="362.9" font-size="14" fill="#111111" textLength="45.1" lengthAdjust="spacingAndGlyphs">million</text>
<text x="484.7" y="378.8" font-size="14" fill="#111111" textLength="35.8" lengthAdjust="spacingAndGlyphs">cases</text>
<text x="308.3" y="368.3" font-size="14" fill="#111111" textLength="45.7" lengthAdjust="spacingAndGlyphs">Nigeria</text>
<text x="308.3" y="384" font-size="14" fill="#111111" textLength="50.7" lengthAdjust="spacingAndGlyphs">418,000</text>
<text x="498.6" y="410.6" font-size="14" fill="#111111" textLength="77.2" lengthAdjust="spacingAndGlyphs">Bangladesh</text>
<text x="498.4" y="426.4" font-size="14" fill="#111111" textLength="50.9" lengthAdjust="spacingAndGlyphs">364,000</text>
<text x="595" y="406.4" font-size="14" fill="#111111" textLength="64.5" lengthAdjust="spacingAndGlyphs">Indonesia</text>
<text x="595" y="422.4" font-size="14" fill="#111111" textLength="51.0" lengthAdjust="spacingAndGlyphs">842,000</text>
<text x="329" y="478.5" font-size="14" fill="#111111" textLength="80.5" lengthAdjust="spacingAndGlyphs">South Africa</text>
<text x="329" y="494.5" font-size="14" fill="#111111" textLength="51.0" lengthAdjust="spacingAndGlyphs">322,000</text>
<text x="417.5" y="513.3" font-size="15" font-weight="bold" fill="#000" textLength="287.5" lengthAdjust="spacingAndGlyphs" stroke="#000" stroke-width="0.45">30 high multi-drug resistant TB countries</text>
<text x="14" y="535" font-size="11" font-style="italic" fill="#111111" textLength="218.0" lengthAdjust="spacingAndGlyphs">Source : WHO global tuberculosis report 2018</text>
<text x="699.3" y="536.9" font-size="14.5" fill="#222">©</text>
<text x="714.5" y="536.3" font-size="16.6" font-weight="bold" font-style="italic" fill="#1f7cc4" textLength="36.0" lengthAdjust="spacingAndGlyphs" stroke="#1f7cc4" stroke-width="0.8">AFP</text>
</g>
</svg>
</body>
</html>
